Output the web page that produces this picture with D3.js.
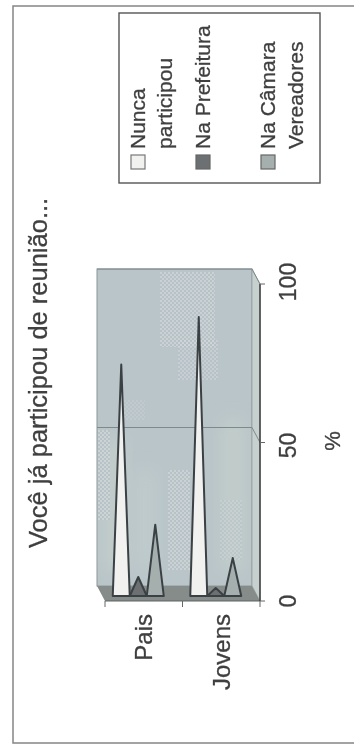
<!DOCTYPE html>
<html><head><meta charset="utf-8">
<style>html,body{margin:0;padding:0;background:#fff}svg{display:block}text{font-family:"Liberation Sans",Arial,sans-serif;fill:#3f3f3f;stroke:#3f3f3f;stroke-width:.3px}</style>
<script src="https://cdn.jsdelivr.net/npm/d3@7/dist/d3.min.js"></script>
</head><body><div id="c"></div>
<script>
const title = "Você já participou de reunião...";
const categories = ["Pais", "Jovens"];
const seriesNames = ["Nunca participou", "Na Prefeitura", "Na Câmara Vereadores"];
const nunca = [73, 88];
const prefeitura = [6, 2.5];
const camara = [22.5, 12];
const valueTicks = [0, 50, 100];
const axisTitle = "%";
const legendLines = [["Nunca", "participou"], ["Na Prefeitura"], ["Na Câmara", "Vereadores"]];
const colors = ["#f1f2f0", "#6d6f72", "#a5afae"];
const seriesValues = [nunca, prefeitura, camara];

const W = 354, H = 752;
const svg = d3.select("#c").append("svg").attr("width", W).attr("height", H);
const defs = svg.append("defs");
const pat = defs.append("pattern").attr("id", "dots").attr("width", 4).attr("height", 4).attr("patternUnits", "userSpaceOnUse");
pat.append("rect").attr("width", 4).attr("height", 4).attr("fill", "#b4c0c5");
pat.append("circle").attr("cx", 1).attr("cy", 1).attr("r", 1).attr("fill", "#dde1e1");
pat.append("circle").attr("cx", 3).attr("cy", 3).attr("r", 1).attr("fill", "#dde1e1");
const f = defs.append("filter").attr("id", "soft");
f.append("feGaussianBlur").attr("stdDeviation", 0.6);
const f2 = defs.append("filter").attr("id", "soft2").attr("x", "-40%").attr("y", "-40%").attr("width", "180%").attr("height", "180%");
f2.append("feGaussianBlur").attr("stdDeviation", 8);

const root = svg.append("g").attr("filter", "url(#soft)");

// frame
root.append("path").attr("d", `M354 6H13V743H354`).attr("fill", "none").attr("stroke", "#858585").attr("stroke-width", 1.5);

// scales
const dx = 8, dy = 15;
const y = d3.scaleLinear().domain([0, 100]).range([601, 284]);
const xCat = d3.scaleBand().domain(categories).range([105, 260]);
const xSer = d3.scalePoint().domain(d3.range(seriesNames.length)).range([0, 34]);
const peakX = (c, s) => xCat(categories[c]) + xCat.bandwidth() / 2 - 22.5 + xSer(s);
const baseY = y(0) - 5;
const unit = y(0) - y(1);

const [x0, x1] = xCat.range();
// walls
root.append("rect").attr("x", x0 - dx).attr("y", y(100) - dy).attr("width", x1 - x0).attr("height", y(0) - y(100))
  .attr("fill", "#b9c5c9").attr("stroke", "#8e9698").attr("stroke-width", 1);
// lighter, greener zones of the scanned wall, then dither zones
const wallG = root.append("g");
[[105, 440, 20, 130, "#c3ceca"], [222, 420, 22, 150, "#c2cdca"], [135, 470, 20, 100, "#bfcbcb"]].forEach(r =>
  wallG.append("rect").attr("x", r[0]).attr("y", r[1]).attr("width", r[2]).attr("height", r[3]).attr("fill", r[4]).attr("filter", "url(#soft2)"));
[[160, 272, 55, 75, .7], [178, 340, 40, 40, .55], [98, 430, 12, 90, .7], [168, 470, 22, 100, .7], [220, 500, 22, 60, .4], [120, 400, 25, 20, .3]].forEach(r =>
  wallG.append("rect").attr("x", r[0]).attr("y", r[1]).attr("width", r[2]).attr("height", r[3]).attr("fill", "url(#dots)").attr("opacity", r[4]));
// side wall
root.append("path").attr("d", `M${x1 - dx} ${y(100) - dy}L${x1} ${y(100)}V${y(0)}L${x1 - dx} ${y(0) - dy}Z`)
  .attr("fill", "#c6d0ce").attr("stroke", "#98a0a0").attr("stroke-width", .8);
// floor
root.append("path").attr("d", `M${x0 - dx} ${y(0) - dy}H${x1 - dx}L${x1} ${y(0)}H${x0}Z`).attr("fill", "#868c89");

// gridlines
valueTicks.filter(v => v > 0).forEach(v => {
  root.append("path").attr("d", `M${x0 - dx} ${y(v) - dy}H${x1 - dx}L${x1} ${y(v)}`).attr("fill", "none").attr("stroke", "#7e8a8a").attr("stroke-width", 1);
});

// peaks
const halfW = 8.5;
seriesNames.forEach((n, s) => {
  categories.forEach((c, ci) => {
    const v = seriesValues[s][ci];
    const px = peakX(ci, s);
    const top = baseY - v * unit;
    root.append("path").attr("d", `M${px - halfW} ${baseY}L${px} ${top}L${px + halfW} ${baseY}Z`)
      .attr("fill", colors[s]).attr("stroke", "#3a4144").attr("stroke-width", 2).attr("stroke-linejoin", "round");
  });
});

// axes
root.append("path").attr("d", `M${x0} ${y(0)}H${x1}`).attr("stroke", "#5c6262").attr("stroke-width", 1.2);
root.append("path").attr("d", `M${x1} ${y(100)}V${y(0)}`).attr("stroke", "#333").attr("stroke-width", 1.4);
[x0, (x0 + x1) / 2, x1].forEach(t => root.append("path").attr("d", `M${t} ${y(0)}v6`).attr("stroke", "#666").attr("stroke-width", 1));
valueTicks.forEach(v => root.append("path").attr("d", `M${x1} ${y(v)}h5`).attr("stroke", "#666").attr("stroke-width", 1));

function rot(px, py, str, size, anchor) {
  return root.append("text").attr("transform", `translate(${px},${py}) rotate(-90)`).attr("font-size", size)
    .attr("text-anchor", anchor).text(str);
}
valueTicks.forEach(v => rot(296, y(v) + (v === 50 ? 3 : 0) + (v === 100 ? -2 : 0), v, 23, "middle"));
rot(340, 441, axisTitle, 22, "middle");
const catBase = [152, 230];
categories.forEach((c, i) => rot(catBase[i], 614, c, 24, "end"));
rot(47, 548, title, 25.5, "start");

// legend
root.append("rect").attr("x", 119).attr("y", 13).attr("width", 201).attr("height", 170).attr("fill", "#fff").attr("stroke", "#555").attr("stroke-width", 1.4);
const legendX = [[145, 172], [210], [275, 303]];
legendLines.forEach((lines, i) => {
  lines.forEach((l, j) => rot(legendX[i][j], 149, l, 21, "start"));
  root.append("rect").attr("x", legendX[i][0] - 14).attr("y", 155).attr("width", 14).attr("height", 14)
    .attr("fill", colors[i]).attr("stroke", i === 0 ? "#777" : "#666").attr("stroke-width", 1.2);
});
</script></body></html>
